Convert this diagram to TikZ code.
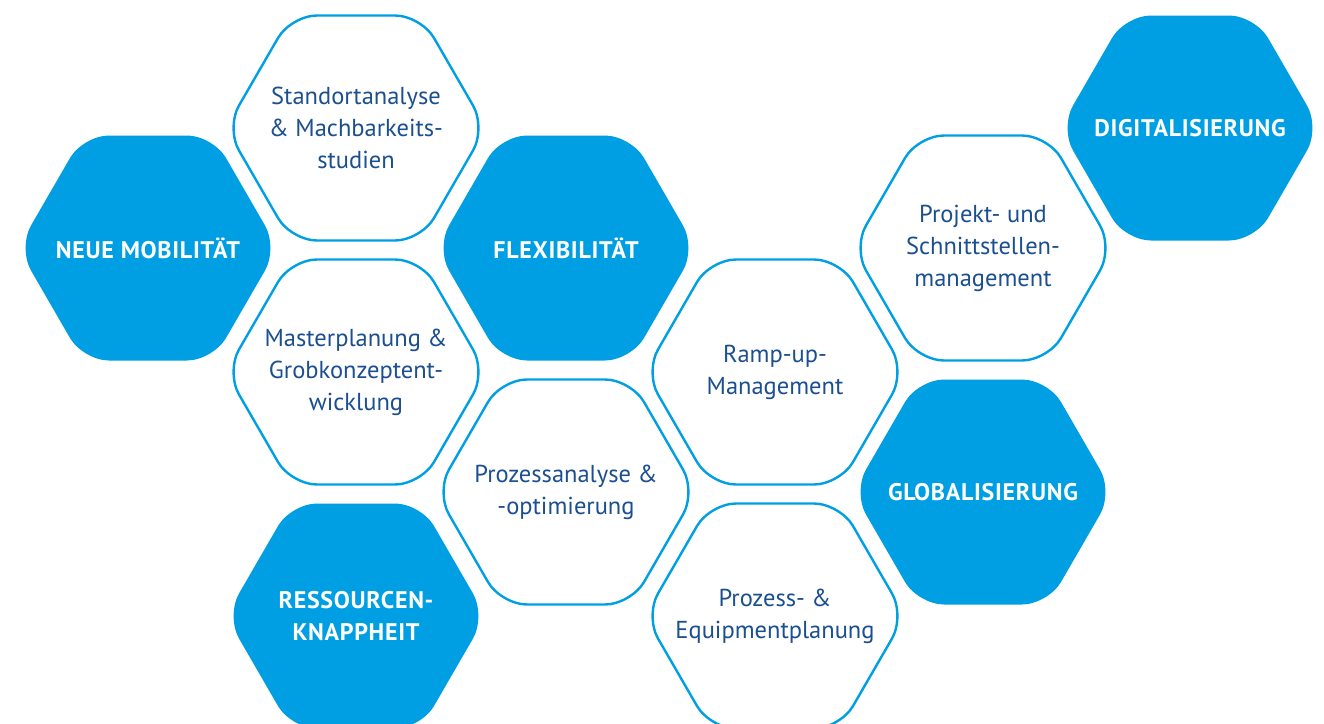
\documentclass[tikz,border=0pt]{standalone}
\usepackage{fontspec}
\setmainfont{PT Sans}
\newfontfamily\boldlbl[LetterSpace=3]{PT Sans Bold}
\usetikzlibrary{calc}
\definecolor{hexblue}{HTML}{009FE3}
\definecolor{txtblue}{HTML}{1B4F8F}
\tikzset{
  hexfilled/.style={fill=hexblue},
  hexline/.style={draw=hexblue, line width=2.4pt, fill=white},
  lbl/.style={text=txtblue, align=center, font=\fontsize{24.5}{32}\selectfont},
  blbl/.style={text=white, align=center, font=\fontsize{24}{32}\selectfont\boldlbl},
}
\newcommand\hexat[2]{%
  \path[#1, rounded corners=26pt] ($(#2)+(-130,0)$) -- ++(65,-112.5) -- ++(130,0)
    -- ++(65,112.5) -- ++(-65,112.5) -- ++(-130,0) -- cycle;}
\begin{document}
\begin{tikzpicture}[x=1pt,y=-1pt]
\useasboundingbox (0,0) rectangle (1324,723);
\coordinate (cA) at (148,248);
\coordinate (cB) at (356,128);
\coordinate (cC) at (566,248);
\coordinate (cD) at (356,372);
\coordinate (cE) at (566,492);
\coordinate (cF) at (356,616);
\coordinate (cG) at (775,372);
\coordinate (cH) at (775,616);
\coordinate (cI) at (983,248);
\coordinate (cJ) at (983,492);
\coordinate (cK) at (1190,128);
\hexat{hexfilled}{cA}
\hexat{hexline}{cB}
\hexat{hexfilled}{cC}
\hexat{hexline}{cD}
\hexat{hexline}{cE}
\hexat{hexfilled}{cF}
\hexat{hexline}{cG}
\hexat{hexline}{cH}
\hexat{hexline}{cI}
\hexat{hexfilled}{cJ}
\hexat{hexfilled}{cK}
\node[blbl] (A) at (cA) {NEUE MOBILITÄT};
\node[lbl] (B) at (cB) {Standortanalyse\\\& Machbarkeits-\\studien};
\node[blbl] (C) at (cC) {FLEXIBILITÄT};
\node[lbl] (D) at (cD) {Masterplanung \&\\Grobkonzeptent-\\wicklung};
\node[lbl] (E) at (cE) {Prozessanalyse \&\\-optimierung};
\node[blbl] (F) at (cF) {RESSOURCEN-\\KNAPPHEIT};
\node[lbl] (G) at (cG) {Ramp-up-\\Management};
\node[lbl] (H) at (cH) {Prozess- \&\\Equipmentplanung};
\node[lbl] (I) at (cI) {Projekt- und\\Schnittstellen-\\management};
\node[blbl] (J) at (cJ) {GLOBALISIERUNG};
\node[blbl] (K) at (cK) {DIGITALISIERUNG};
\end{tikzpicture}
\end{document}
